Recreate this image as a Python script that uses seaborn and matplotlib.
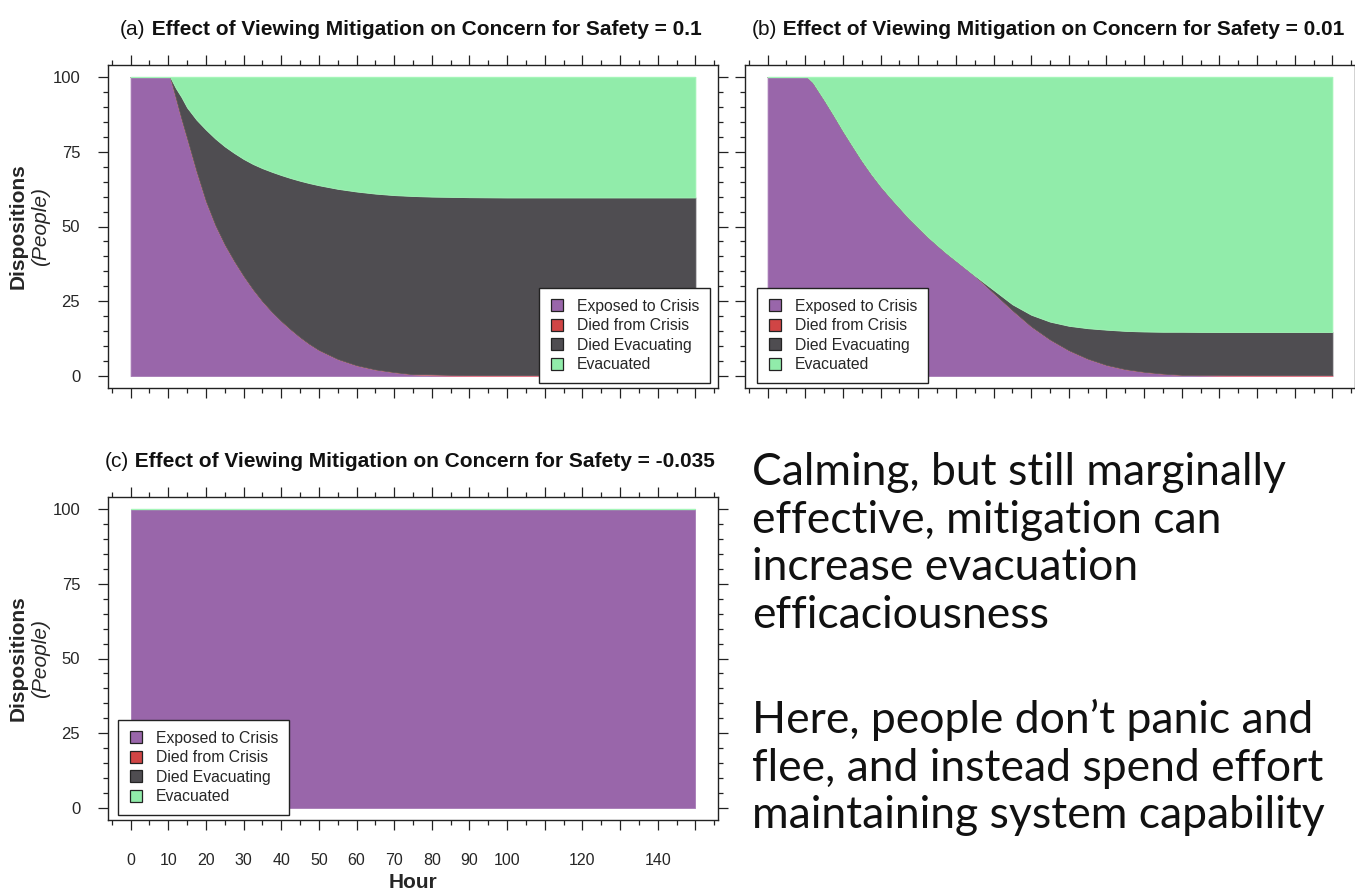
import numpy as np
import pandas as pd
import matplotlib
matplotlib.use("Agg")
import matplotlib.pyplot as plt
from matplotlib.lines import Line2D
from matplotlib.ticker import MultipleLocator
import seaborn as sns

# ---- data (people, by hour) ----
hours = [0, 5, 10.5, 12, 13.5, 15, 17.5, 20, 22.5, 25, 27.5, 30, 32.5, 35, 37.5, 40, 42.5, 45, 47.5, 50,
         55, 60, 65, 70, 75, 80, 85, 90, 95, 100, 105, 110, 120, 130, 140, 150]

# (a) mitigation effect = 0.1
exposed_a = [100, 100, 100, 93, 86, 79.5, 68.5, 58.5, 50.5, 44, 38.5, 33.5, 29, 25, 21.5, 18.4, 15.6, 13, 10.7, 8.7,
             5.7, 3.6, 2.2, 1.3, 0.6, 0.25, 0.1, 0.05, 0, 0, 0, 0, 0, 0, 0, 0]
died_crisis_a = [0, 0, 0, 0, 0, 0, 0, 0, 0, 0, 0, 0, 0, 0, 0, 0, 0, 0, 0, 0,
                 0, 0, 0, 0, 0, 0.3, 0.3, 0.3, 0.3, 0.3, 0.3, 0.3, 0.3, 0.3, 0.3, 0.3]
died_evac_a = [0, 0, 0, 3.3, 7.3, 10.3, 17.2, 23.9, 28.9, 32.8, 36.1, 39.1, 41.9, 44.5, 46.8, 48.8, 50.6, 52.3, 53.8, 55.1,
               56.9, 58.1, 58.8, 59.2, 59.6, 59.45, 59.5, 59.45, 59.45, 59.4, 59.4, 59.4, 59.4, 59.4, 59.4, 59.4]
evacuated_a = [0, 0, 0, 3.7, 6.7, 10.2, 14.3, 17.6, 20.6, 23.2, 25.4, 27.4, 29.1, 30.5, 31.7, 32.8, 33.8, 34.7, 35.5, 36.2,
               37.4, 38.3, 39, 39.5, 39.8, 40, 40.1, 40.2, 40.25, 40.3, 40.3, 40.3, 40.3, 40.3, 40.3, 40.3]

# (b) mitigation effect = 0.01
exposed_b = [100, 100, 100, 98.2, 95.3, 92.4, 87.3, 82, 77, 72.1, 67.6, 63.5, 59.8, 56.3, 52.8, 49.7, 46.6, 43.8, 41.1, 38.6,
             33.6, 27.8, 22, 16.6, 12.2, 8.6, 5.8, 3.7, 2.3, 1.4, 0.8, 0.4, 0.1, 0, 0, 0]
died_crisis_b = [0, 0, 0, 0, 0, 0, 0, 0, 0, 0, 0, 0, 0, 0, 0, 0, 0, 0, 0, 0,
                 0, 0, 0, 0, 0, 0, 0, 0, 0, 0, 0, 0, 0.3, 0.3, 0.3, 0.3]
died_evac_b = [0, 0, 0, 0, 0, 0, 0, 0, 0, 0, 0, 0, 0, 0, 0, 0, 0, 0, 0, 0,
               0, 1.0, 2, 3.9, 6, 8.2, 10.2, 11.8, 12.8, 13.5, 14, 14.4, 14.3, 14.4, 14.4, 14.4]
evacuated_b = [0, 0, 0, 1.8, 4.7, 7.6, 12.7, 18, 23, 27.9, 32.4, 36.5, 40.2, 43.7, 47.2, 50.3, 53.4, 56.2, 58.9, 61.4,
               66.4, 71.2, 76, 79.5, 81.8, 83.2, 84, 84.5, 84.9, 85.1, 85.2, 85.2, 85.3, 85.3, 85.3, 85.3]

# (c) mitigation effect = -0.035
hours_c = [0, 150]
exposed_c = [100, 100]
died_crisis_c = [0, 0]
died_evac_c = [0, 0]
evacuated_c = [0, 0]

series_names = ["Exposed to Crisis", "Died from Crisis", "Died Evacuating", "Evacuated"]
series_colors = ["#9966AA", "#D04545", "#4F4D51", "#91ECAA"]
edge_colors = ["#A77BB6", "#F08090", "#5A585C", "#A4F5B8"]

titles = ["Effect of Viewing Mitigation on Concern for Safety = 0.1",
          "Effect of Viewing Mitigation on Concern for Safety = 0.01",
          "Effect of Viewing Mitigation on Concern for Safety = -0.035"]
tags = ["(a)", "(b)", "(c)"]
xtick_vals = list(range(0, 151, 10))
xtick_labels = ["0", "10", "20", "30", "40", "50", "60", "70", "80", "90", "100", "", "120", "", "140", ""]

para1 = "Calming, but still marginally\neffective, mitigation can\nincrease evacuation\nefficaciousness"
para2 = "Here, people don\u2019t panic and\nflee, and instead spend effort\nmaintaining system capability"

sns.set_theme(style="ticks")
plt.rcParams["font.family"] = ["Liberation Sans", "DejaVu Sans"]

W, H = 1355, 890
fig = plt.figure(figsize=(W / 100, H / 100), dpi=100)


def px_axes(x0, y0, x1, y1):
    return fig.add_axes([x0 / W, 1 - y1 / H, (x1 - x0) / W, (y1 - y0) / H])


ax_a = px_axes(108, 65, 718, 388)
ax_b = px_axes(745, 65, 1355, 388)
ax_c = px_axes(108, 497, 718, 820)

panels = [
    (ax_a, hours, [exposed_a, died_crisis_a, died_evac_a, evacuated_a]),
    (ax_b, hours, [exposed_b, died_crisis_b, died_evac_b, evacuated_b]),
    (ax_c, hours_c, [exposed_c, died_crisis_c, died_evac_c, evacuated_c]),
]

for ax, hrs, layers in panels:
    base = np.zeros(len(hrs))
    for vals, col, ecol in zip(layers, series_colors, edge_colors):
        top = base + np.asarray(vals, dtype=float)
        ax.fill_between(hrs, base, top, facecolor=col, edgecolor=ecol, linewidth=0.6)
        base = top
    df = pd.DataFrame({"Hour": hrs, "total": base})
    sns.lineplot(data=df, x="Hour", y="total", ax=ax, color=edge_colors[3], linewidth=1.0, legend=False)

    ax.set_xlim(-6, 156)
    ax.set_ylim(-4, 104)
    ax.xaxis.set_major_locator(MultipleLocator(10))
    ax.xaxis.set_minor_locator(MultipleLocator(5))
    ax.yaxis.set_major_locator(MultipleLocator(25))
    ax.yaxis.set_minor_locator(MultipleLocator(5))
    ax.tick_params(which="both", direction="out", top=True, right=True, width=0.9, color="#222222")
    ax.tick_params(which="major", length=7)
    ax.tick_params(which="minor", length=3.5)
    ax.tick_params(axis="y", which="major", labelsize=12, pad=13)
    ax.tick_params(axis="x", which="major", labelsize=11.5, pad=17)
    ax.set_xlabel("")
    ax.set_ylabel("")
    for sp in ax.spines.values():
        sp.set_visible(True)
        sp.set_color("#222222")
        sp.set_linewidth(1.0)

ax_a.tick_params(labelbottom=False)
ax_b.tick_params(labelbottom=False, labelleft=False)
ax_c.set_xticks(xtick_vals)
ax_c.set_xticklabels(xtick_labels)

# titles: regular tag + bold text
for ax, tag, title, dx in [(ax_a, tags[0], titles[0], 0.0197), (ax_b, tags[1], titles[1], 0.0115),
                           (ax_c, tags[2], titles[2], -0.005)]:
    t = ax.text(dx, 1.093, tag, transform=ax.transAxes, ha="left", va="baseline",
                fontsize=15, color="#111111")
    ax.annotate(" " + title, xy=(1, 0), xycoords=t, ha="left", va="bottom",
                fontsize=15, fontweight="bold", color="#111111")

# y labels
for ax in (ax_a, ax_c):
    ax.text(-0.148, 0.5, "Dispositions", transform=ax.transAxes, rotation=90,
            ha="center", va="center", fontsize=15, fontweight="bold")
    ax.text(-0.110, 0.5, "(People)", transform=ax.transAxes, rotation=90,
            ha="center", va="center", fontsize=15, style="italic")

ax_c.text(0.5, -0.163, "Hour", transform=ax_c.transAxes, ha="center", va="top",
          fontsize=15, fontweight="bold")

# legends
handles = [Line2D([], [], linestyle="none", marker="s", markersize=8, markerfacecolor=c,
                  markeredgecolor="#222222", markeredgewidth=0.9) for c in series_colors]
for ax, loc, anchor in [(ax_a, "lower right", (0.987, 0.0155)),
                        (ax_b, "lower left", (0.0197, 0.0155)),
                        (ax_c, "lower left", (0.0164, 0.0155))]:
    leg = ax.legend(handles, series_names, loc=loc, bbox_to_anchor=anchor, borderaxespad=0,
                    fontsize=11.3, frameon=True, fancybox=False, framealpha=1,
                    edgecolor="#222222", borderpad=0.7, labelspacing=0.28,
                    handlelength=0.9, handletextpad=0.8)
    leg.get_frame().set_linewidth(1.0)

# side text
fig.text(752 / W, 1 - 452 / H, para1, ha="left", va="top", fontsize=32,
         family=["Lato", "DejaVu Sans"], linespacing=1.2, color="#111111")
fig.text(752 / W, 1 - 699 / H, para2, ha="left", va="top", fontsize=32,
         family=["Lato", "DejaVu Sans"], linespacing=1.2, color="#111111")

fig.savefig("out.png", dpi=100)
